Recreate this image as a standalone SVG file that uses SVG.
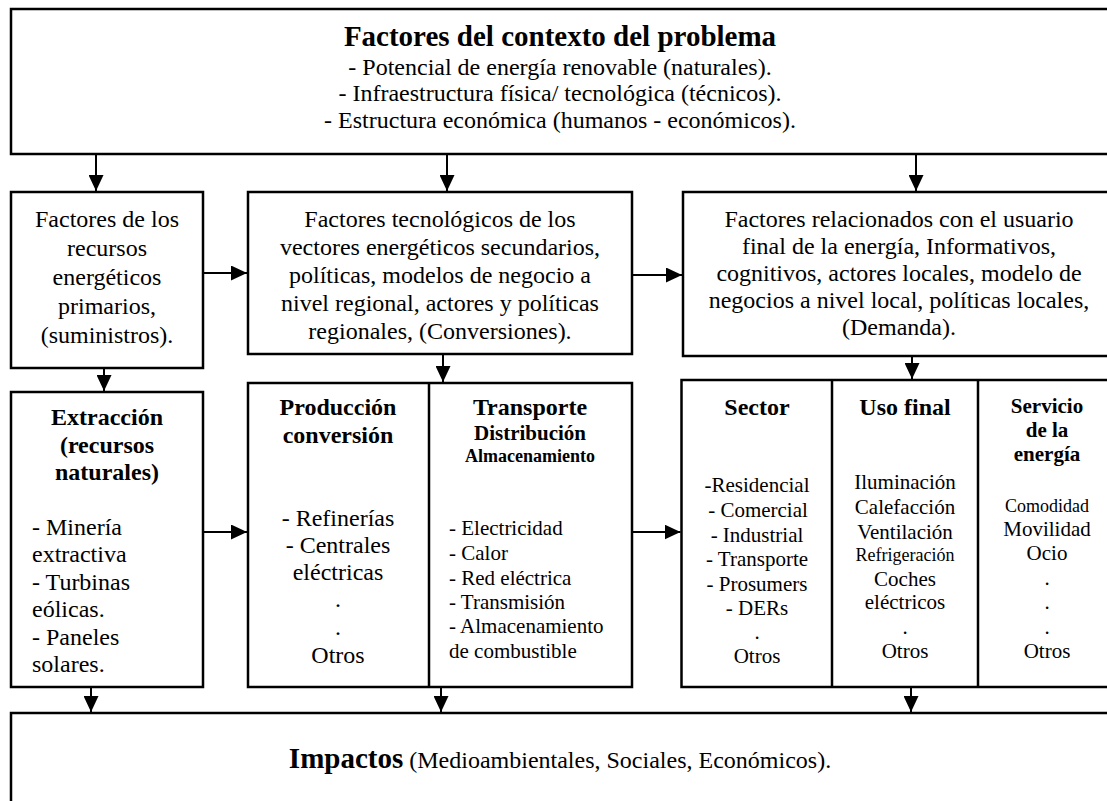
<svg xmlns="http://www.w3.org/2000/svg" width="1107" height="801" viewBox="0 0 1107 801">
  <defs>
    <marker id="ah" markerUnits="userSpaceOnUse" markerWidth="16" markerHeight="15" refX="16" refY="7.5" orient="auto">
      <path d="M0,0 L16,7.5 L0,15 z" fill="#000"/>
    </marker>
    <style>
      .box{fill:#fff;stroke:#000;stroke-width:2.5}
      .div{stroke:#000;stroke-width:2.5}
      text{font-family:"Liberation Serif","Times New Roman",serif;fill:#000}
      .c{text-anchor:middle}
      .t{font-size:24px}
      .s{font-size:21px}
      .xs{font-size:18px}
      .h{font-size:29px}
      .b{font-weight:bold}
      #connectors line{stroke:#000;stroke-width:2;marker-end:url(#ah)}
    </style>
  </defs>
  <rect width="1107" height="801" fill="#fff"/>

  <!-- context factors -->
  <g id="context">
    <rect class="box" x="11" y="9" width="1105" height="145"/>
    <text class="c h b" x="560" y="46">Factores del contexto del problema</text>
    <text class="c t" x="560" y="75">- Potencial de energía renovable (naturales).</text>
    <text class="c t" x="560" y="101">- Infraestructura física/ tecnológica (técnicos).</text>
    <text class="c t" x="560" y="128">- Estructura económica (humanos - económicos).</text>
  </g>

  <!-- primary resources -->
  <g id="primary">
    <rect class="box" x="11" y="192" width="192" height="176"/>
    <text class="c t" x="107" y="227">Factores de los</text>
    <text class="c t" x="107" y="256">recursos</text>
    <text class="c t" x="107" y="285">energéticos</text>
    <text class="c t" x="107" y="314">primarios,</text>
    <text class="c t" x="107" y="343">(suministros).</text>
  </g>

  <!-- secondary vectors -->
  <g id="secondary">
    <rect class="box" x="248" y="192" width="384" height="162"/>
    <text class="c t" x="440" y="227">Factores tecnológicos de los</text>
    <text class="c t" x="440" y="255">vectores energéticos secundarios,</text>
    <text class="c t" x="440" y="283">políticas, modelos de negocio a</text>
    <text class="c t" x="440" y="311">nivel regional, actores y políticas</text>
    <text class="c t" x="440" y="339">regionales, (Conversiones).</text>
  </g>

  <!-- end user / demand -->
  <g id="demand">
    <rect class="box" x="683" y="192" width="432" height="164"/>
    <text class="c t" x="899" y="227">Factores relacionados con el usuario</text>
    <text class="c t" x="899" y="254">final de la energía, Informativos,</text>
    <text class="c t" x="899" y="281">cognitivos, actores locales, modelo de</text>
    <text class="c t" x="899" y="308">negocios a nivel local, políticas locales,</text>
    <text class="c t" x="899" y="335">(Demanda).</text>
  </g>

  <!-- extraction -->
  <g id="extraction">
    <rect class="box" x="11" y="392" width="192" height="295"/>
    <text class="c t b" x="107" y="425">Extracción</text>
    <text class="c t b" x="107" y="453">(recursos</text>
    <text class="c t b" x="107" y="480">naturales)</text>
    <text class="t" x="32" y="535">- Minería</text>
    <text class="t" x="32" y="562">extractiva</text>
    <text class="t" x="32" y="590">- Turbinas</text>
    <text class="t" x="32" y="617">eólicas.</text>
    <text class="t" x="32" y="645">- Paneles</text>
    <text class="t" x="32" y="672">solares.</text>
  </g>

  <!-- conversion and transport -->
  <g id="conversion">
    <rect class="box" x="248" y="383" width="384" height="304"/>
    <line class="div" x1="429" y1="383" x2="429" y2="687"/>
    <text class="c t b" x="338" y="415">Producción</text>
    <text class="c t b" x="338" y="443">conversión</text>
    <text class="c t" x="338" y="526">- Refinerías</text>
    <text class="c t" x="338" y="553">- Centrales</text>
    <text class="c t" x="338" y="580">eléctricas</text>
    <text class="c t" x="338" y="607">.</text>
    <text class="c t" x="338" y="635">.</text>
    <text class="c t" x="338" y="663">Otros</text>
    <text class="c t b" x="530" y="415">Transporte</text>
    <text class="c s b" x="530" y="440">Distribución</text>
    <text class="c xs b" x="530" y="462">Almacenamiento</text>
    <text class="s" x="449" y="535">- Electricidad</text>
    <text class="s" x="449" y="560">- Calor</text>
    <text class="s" x="449" y="585">- Red eléctrica</text>
    <text class="s" x="449" y="609">- Transmisión</text>
    <text class="s" x="449" y="633">- Almacenamiento</text>
    <text class="s" x="449" y="658">de combustible</text>
  </g>

  <!-- sector, end use, energy service -->
  <g id="enduse">
    <rect class="box" x="681.5" y="380" width="434" height="307"/>
    <line class="div" x1="832" y1="380" x2="832" y2="687"/>
    <line class="div" x1="978" y1="380" x2="978" y2="687"/>
    <text class="c t b" x="757" y="415">Sector</text>
    <text class="c s" x="757" y="492">-Residencial</text>
    <text class="c s" x="758" y="517">- Comercial</text>
    <text class="c s" x="757" y="542">- Industrial</text>
    <text class="c s" x="757" y="566">- Transporte</text>
    <text class="c s" x="757" y="591">- Prosumers</text>
    <text class="c s" x="757" y="615">- DERs</text>
    <text class="c s" x="757" y="639">.</text>
    <text class="c s" x="757" y="663">Otros</text>
    <text class="c t b" x="905" y="415">Uso final</text>
    <text class="c s" x="905" y="489">Iluminación</text>
    <text class="c s" x="905" y="514">Calefacción</text>
    <text class="c s" x="905" y="539">Ventilación</text>
    <text class="c xs" x="905" y="561">Refrigeración</text>
    <text class="c s" x="905" y="586">Coches</text>
    <text class="c s" x="905" y="609">eléctricos</text>
    <text class="c s" x="905" y="634">.</text>
    <text class="c s" x="905" y="658">Otros</text>
    <text class="c s b" x="1047" y="413">Servicio</text>
    <text class="c s b" x="1047" y="437">de la</text>
    <text class="c s b" x="1047" y="461">energía</text>
    <text class="c xs" x="1047" y="512">Comodidad</text>
    <text class="c s" x="1047" y="536">Movilidad</text>
    <text class="c s" x="1047" y="560">Ocio</text>
    <text class="c s" x="1047" y="585">.</text>
    <text class="c s" x="1047" y="609">.</text>
    <text class="c s" x="1047" y="634">.</text>
    <text class="c s" x="1047" y="658">Otros</text>
  </g>

  <!-- impacts -->
  <g id="impacts">
    <rect class="box" x="11" y="713" width="1105" height="100"/>
    <text class="c t" x="560" y="768"><tspan class="h b">Impactos</tspan> (Medioambientales, Sociales, Económicos).</text>
  </g>

  <g id="connectors">
    <line x1="96" y1="154" x2="96" y2="191"/>
    <line x1="447" y1="154" x2="447" y2="191"/>
    <line x1="916" y1="154" x2="916" y2="191"/>
    <line x1="203" y1="273" x2="247" y2="273"/>
    <line x1="632" y1="275" x2="682" y2="275"/>
    <line x1="104" y1="368" x2="104" y2="391"/>
    <line x1="443" y1="354" x2="443" y2="382"/>
    <line x1="912" y1="356" x2="912" y2="379"/>
    <line x1="203" y1="532" x2="247" y2="532"/>
    <line x1="632" y1="532" x2="680.5" y2="532"/>
    <line x1="91" y1="687" x2="91" y2="712"/>
    <line x1="441" y1="687" x2="441" y2="712"/>
    <line x1="911" y1="687" x2="911" y2="712"/>
  </g>
</svg>
